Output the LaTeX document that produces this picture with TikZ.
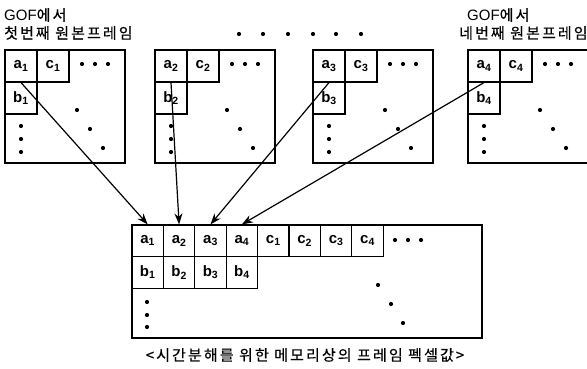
\documentclass[tikz,border=0pt]{standalone}
\usepackage{fontspec}
\setmainfont{Liberation Sans}
\newfontfamily\kr[LetterSpace=14,FakeBold=0.4]{Noto Sans CJK KR}
\usetikzlibrary{arrows.meta}
\begin{document}
\begin{tikzpicture}[x=1pt,y=-1pt,
  frame/.style={draw,line width=1.5pt},
  cell/.style={draw,line width=1.2pt,minimum width=32pt,minimum height=32pt,inner sep=0pt,
    font=\bfseries\fontsize{15}{15}\selectfont},
  mcell/.style={cell,minimum width=31.4pt,minimum height=31.6pt},
  dot/.style={fill,circle,inner sep=0pt,minimum size=4.2pt},
  title/.style={anchor=west,inner sep=0pt,font=\kr\fontsize{15}{15}\selectfont},
  link/.style={line width=1.2pt,-{Stealth[length=11pt,width=8pt]}}]
\useasboundingbox (0,0) rectangle (587,369);

% source frames of the GOF
\foreach \i/\x in {1/5,2/155,3/313,4/468}{
  \draw[frame] (\x,50) rectangle ++(120,113);
  \node[cell] (fa\i) at (\x+16,66) {a\textsubscript{\i}};
  \node[cell] (fc\i) at (\x+48,66) {c\textsubscript{\i}};
  \node[cell] (fb\i) at (\x+16,98) {b\textsubscript{\i}};
  \foreach \dx in {77,90,103} \node[dot] at (\x+\dx,64) {};
  \foreach \dx/\dy in {72/110,85/129,98/148} \node[dot] at (\x+\dx,\dy) {};
  \foreach \dy in {126,139,152} \node[dot] at (\x+16,\dy) {};
}

% titles (Latin part without letter spacing)
\newcommand\gofin{{\normalfont\fontsize{15}{15}\selectfont GOF}에서}
\node[title] (t1a) at (4,15) {\gofin};
\node[title] (t1b) at (4,33) {첫번째 원본프레임};
\node[title] (t4a) at (467,15) {\gofin};
\node[title] (t4b) at (459,33) {네번째 원본프레임};
\foreach \dx in {239,263,288,313,336,361} \node[dot] at (\dx,34) {};

% frame buffer in memory
\draw[frame] (132,225) rectangle (482,338);
\foreach \l/\s [count=\k from 0] in {a/1,a/2,a/3,a/4,c/1,c/2,c/3,c/4}{
  \node[mcell] (m\l\s) at (147.7+31.4*\k,240.8) {\l\textsubscript{\s}};
}
\foreach \l/\s [count=\k from 0] in {b/1,b/2,b/3,b/4}{
  \node[mcell] (m\l\s) at (147.7+31.4*\k,272.4) {\l\textsubscript{\s}};
}
\foreach \dx in {395,408,421} \node[dot] at (\dx,240) {};
\foreach \dx/\dy in {378/285,391/304,403/323} \node[dot] at (\dx,\dy) {};
\foreach \dy in {302,315,327} \node[dot] at (147,\dy) {};

\node[inner sep=0pt,font=\kr\fontsize{15}{15}\selectfont] (cap) at (305,355)
  {<시간분해를 위한 메모리상의 프레임 펙셀값>};

% pixel moves
\draw[link] (fa1.south) -- (ma1.north);
\draw[link] (fa2.south) -- (ma2.north);
\draw[link] (fa3.south) -- (ma3.north);
\draw[link] (fa4.south) -- (ma4.north);
\end{tikzpicture}
\end{document}
